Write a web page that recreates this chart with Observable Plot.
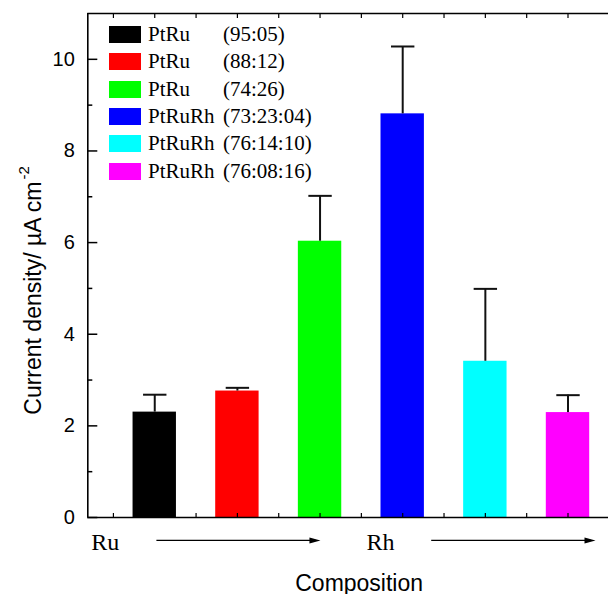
<!DOCTYPE html>
<html><head><meta charset="utf-8">
<script src="https://cdn.jsdelivr.net/npm/d3@7"></script>
<script src="https://cdn.jsdelivr.net/npm/@observablehq/plot@0.6"></script>
<style>
body{margin:0;background:#fff}
#wrap{position:relative;width:608px;height:594px;overflow:hidden}
.legend{position:absolute;left:0;top:0;font-family:"Liberation Serif","Times New Roman",serif;font-size:21px;color:#000}
.row{position:absolute;left:109px;height:17px;width:230px}
.sw{position:absolute;left:0;top:0;width:32px;height:17px}
.nm{position:absolute;left:39px;top:0;line-height:17px;white-space:nowrap}
.rt{position:absolute;left:114px;top:0;line-height:17px;white-space:nowrap}
</style></head><body><div id="wrap"></div>
<script>
// ---- data ----
const alloys = ["PtRu","PtRu","PtRu","PtRuRh","PtRuRh","PtRuRh"];
const ratios = ["(95:05)","(88:12)","(74:26)","(73:23:04)","(76:14:10)","(76:08:16)"];
const positions = [1,2,3,4,5,6];
const values = [2.30, 2.76, 6.03, 8.81, 3.41, 2.29];
const errors = [0.38, 0.07, 0.99, 1.47, 1.58, 0.38];
const colors = ["#000000","#ff0000","#00ff00","#0000ff","#00ffff","#ff00ff"];
const yMajorTicks = [0,2,4,6,8,10];
const yMinorTicks = [1,3,5,7,9];
const xMinorTicks = [0.5,1,1.5,2,2.5,3,3.5,4,4.5,5,5.5,6];
const elementLabels = [{x:0.4, label:"Ru"},{x:3.73, label:"Rh"}];
const arrowSegs = [{x1:1.02, x2:3.005},{x1:4.345, x2:6.333}];
const yTitle = "Current density/ µA cm";
const yTitleSup = "-2";
const xTitle = "Composition";

const data = positions.map((x,i)=>({x, value:values[i], err:errors[i], color:colors[i]}));
const sans = "'Liberation Sans', Arial, Helvetica, sans-serif";
const serif = "'Liberation Serif', 'Times New Roman', serif";
const halfBar = 0.2625, halfCap = 0.1415;

const arrowHead = {draw(ctx, l){ ctx.moveTo(0,-l); ctx.lineTo(-3,0); ctx.lineTo(3,0); ctx.closePath(); }};

const plot = Plot.plot({
  width: 608, height: 594,
  marginLeft: 87.3, marginRight: 0, marginTop: 13, marginBottom: 77,
  x: {domain: [0.19, 6.49]},
  y: {domain: [0, 11]},
  color: {type: "identity"},
  style: {background: "#fff", color: "#000", overflow: "visible"},
  marks: [
    Plot.rectY(data, {x1: d=>d.x-halfBar, x2: d=>d.x+halfBar, y1: 0, y2: "value", fill: "color"}),
    Plot.ruleX(data, {x: "x", y1: "value", y2: d=>d.value+d.err, stroke: "#111", strokeWidth: 2}),
    Plot.link(data, {x1: d=>d.x-halfCap, x2: d=>d.x+halfCap, y1: d=>d.value+d.err, y2: d=>d.value+d.err, stroke: "#111", strokeWidth: 2}),
    Plot.ruleY([0, 11], {stroke: "#000", strokeWidth: 1.6}),
    Plot.ruleX([0.19], {stroke: "#000", strokeWidth: 1.6}),
    Plot.axisY({ticks: yMajorTicks, tickSize: -10, tickPadding: 23, fontSize: 20, fontFamily: sans, strokeWidth: 1.5, label: null}),
    Plot.axisY({ticks: yMinorTicks, tickSize: -5, tickFormat: () => "", strokeWidth: 1.5, label: null}),
    Plot.axisX({anchor: "bottom", ticks: xMinorTicks, tickSize: -4, tickFormat: () => "", strokeWidth: 1.2, label: null}),
    Plot.axisX({anchor: "top", ticks: xMinorTicks, tickSize: -4, tickFormat: () => "", strokeWidth: 1.2, label: null}),
    Plot.text(elementLabels, {x: "x", text: "label", frameAnchor: "bottom", lineAnchor: "bottom", dy: 32, fontSize: 24, fontFamily: serif, fill: "#000"}),
    Plot.link(arrowSegs, {x1: "x1", x2: d=>d.x2-0.06, y1: -0.5, y2: -0.5, stroke: "#000", strokeWidth: 1.2}),
    Plot.vector(arrowSegs, {x: "x2", y: -0.5, rotate: 90, length: 11, anchor: "end", shape: arrowHead, fill: "#000", stroke: "none"}),
    Plot.text([yTitle], {text: d=>d, frameAnchor: "left", rotate: -90, dx: -54, dy: 25, fontSize: 23, fontFamily: sans, textAnchor: "middle", fill: "#000"}),
    Plot.text([xTitle], {text: d=>d, frameAnchor: "bottom", lineAnchor: "bottom", dx: 11, dy: 73, fontSize: 23, fontFamily: sans, fill: "#000"})
  ]
});

const wrap = document.getElementById("wrap");
wrap.appendChild(plot);

// superscript on the y title
for (const t of plot.querySelectorAll("text")) {
  if (t.textContent === yTitle) {
    const ts = document.createElementNS("http://www.w3.org/2000/svg", "tspan");
    ts.setAttribute("dy", "-0.8em");
    ts.setAttribute("dx", "2");
    ts.setAttribute("font-size", "15");
    ts.textContent = yTitleSup;
    t.appendChild(ts);
  }
}

// legend
const legend = document.createElement("div");
legend.className = "legend";
alloys.forEach((a, i) => {
  const row = document.createElement("div");
  row.className = "row";
  row.style.top = (25.7 + 27.4 * i) + "px";
  row.innerHTML = `<span class="sw" style="background:${colors[i]}"></span><span class="nm">${a}</span><span class="rt">${ratios[i]}</span>`;
  legend.appendChild(row);
});
wrap.appendChild(legend);
</script>
</body></html>
